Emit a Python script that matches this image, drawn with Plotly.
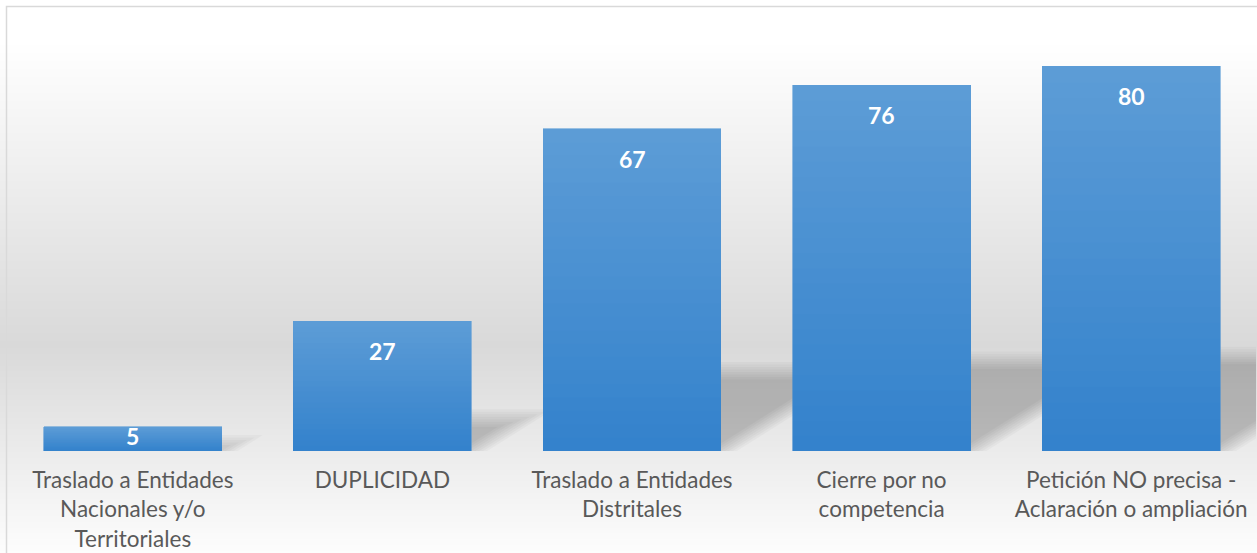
import base64, struct, zlib
import plotly.graph_objects as go

# ---------------- data ----------------
categories = [
    "Traslado a Entidades<br>Nacionales y/o<br>Territoriales",
    "DUPLICIDAD",
    "Traslado a Entidades<br>Distritales",
    "Cierre por no<br>competencia",
    "Petición NO precisa -<br>Aclaración o ampliación",
]
values = [5, 27, 67, 76, 80]
labels = [str(v) for v in values]

# ---------------- geometry / style ----------------
W, H = 1257, 553
ML, MR, MT, MB = 8, 1, 7, 102
PLOT_W = W - ML - MR
PLOT_H = H - MT - MB
PX_PER_UNIT = 385 / 80.0
Y_MAX = PLOT_H / PX_PER_UNIT
BAR_W = 0.713
CAT_PX = PLOT_W / len(categories)

TOP_RGB = (92, 156, 214)
BOT_RGB = (52, 130, 204)
N_SLICES = 24


def png_data_uri(grays, width=4):
    raw = b"".join(b"\x00" + bytes([g, g, g] * width) for g in grays)
    def chunk(t, d):
        c = struct.pack(">I", len(d)) + t + d
        return c + struct.pack(">I", zlib.crc32(t + d) & 0xFFFFFFFF)
    png = b"\x89PNG\r\n\x1a\n"
    png += chunk(b"IHDR", struct.pack(">IIBBBBB", width, len(grays), 8, 2, 0, 0, 0))
    png += chunk(b"IDAT", zlib.compress(raw, 9))
    png += chunk(b"IEND", b"")
    return "data:image/png;base64," + base64.b64encode(png).decode()


stops = [(0, 255), (40, 255), (345, 217), (553, 253)]


def gray_at(y):
    for (y0, g0), (y1, g1) in zip(stops, stops[1:]):
        if y0 <= y <= y1:
            return int(round(g0 + (g1 - g0) * (y - y0) / (y1 - y0)))
    return stops[-1][1]


bg_uri = png_data_uri([gray_at(y) for y in range(H)])

fig = go.Figure()

# gradient bars: stacked slices (top light, bottom dark)
for k in range(N_SLICES):
    t = k / (N_SLICES - 1)  # 0 bottom -> 1 top
    rgb = tuple(int(round(BOT_RGB[j] + (TOP_RGB[j] - BOT_RGB[j]) * t)) for j in range(3))
    col = "rgb(%d,%d,%d)" % rgb
    fig.add_trace(go.Bar(
        x=list(range(len(categories))),
        y=[v / N_SLICES for v in values],
        marker=dict(color=col, line=dict(width=0.6, color=col)),
        width=BAR_W,
        showlegend=False,
        hoverinfo="skip",
    ))

# value labels
for i, v in enumerate(values):
    hpx = v * PX_PER_UNIT
    fig.add_annotation(
        x=i, y=v, xref="x", yref="y",
        text="<b>%s</b>" % labels[i],
        showarrow=False, yanchor="middle",
        yshift=-min(30, 0.38 * hpx),
        font=dict(family="Lato, Carlito, Calibri, sans-serif", size=23, color="white"),
    )

# perspective shadows (derived from values), soft edges via layered polygons
SLOPE = 0.63
K = 8
STEP = 2.5
for i, v in enumerate(values):
    xr = i + BAR_W / 2
    top_px = 0.245 * v * PX_PER_UNIT
    for k in range(K):
        off = (K / 2 - k) * STEP  # outer layers bigger
        tp = top_px + off
        base_shift = -off
        if tp <= max(base_shift, 0):
            continue
        dx_px = (tp - base_shift) / SLOPE
        y0 = max(base_shift, 0) / PX_PER_UNIT
        x_start = xr + (y0 * PX_PER_UNIT - base_shift) / SLOPE / CAT_PX
        y_top = tp / PX_PER_UNIT
        x_end = xr + dx_px / CAT_PX
        path = "M %f %f L %f %f L %f %f L %f %f Z" % (
            xr, 0, xr, y_top, x_end, y_top, x_start, y0)
        fig.add_shape(type="path", path=path, xref="x", yref="y",
                      fillcolor="rgba(0,0,0,%.3f)" % (0.22 / K),
                      line=dict(width=0), layer="below")

# background gradient image
fig.add_layout_image(
    source=bg_uri, xref="paper", yref="paper",
    x=-ML / PLOT_W, y=1 + MT / PLOT_H,
    sizex=W / PLOT_W, sizey=H / PLOT_H,
    sizing="stretch", xanchor="left", yanchor="top", layer="below",
)

# chart border
fig.add_shape(type="rect", xref="paper", yref="paper",
              x0=-1.5 / PLOT_W, x1=1 + 5 / PLOT_W,
              y0=-(MB + 5) / PLOT_H, y1=1 + 0.5 / PLOT_H,
              line=dict(color="#d9d9d9", width=1.5), fillcolor="rgba(0,0,0,0)",
              layer="above")

fig.update_layout(
    width=W, height=H,
    margin=dict(l=ML, r=MR, t=MT, b=MB, pad=0),
    barmode="stack", bargap=1 - BAR_W,
    paper_bgcolor="white", plot_bgcolor="rgba(0,0,0,0)",
    font=dict(family="Lato, Carlito, Calibri, sans-serif", color="#595959"),
    xaxis=dict(
        tickmode="array", tickvals=list(range(len(categories))), ticktext=categories,
        range=[-0.5, len(categories) - 0.5],
        showgrid=False, zeroline=False, showline=False,
        ticks="outside", ticklen=9, tickcolor="rgba(0,0,0,0)",
        tickfont=dict(size=22.5, color="#595959"),
        fixedrange=True,
    ),
    yaxis=dict(range=[0, Y_MAX], visible=False, fixedrange=True),
)

fig.write_html("out.html")
